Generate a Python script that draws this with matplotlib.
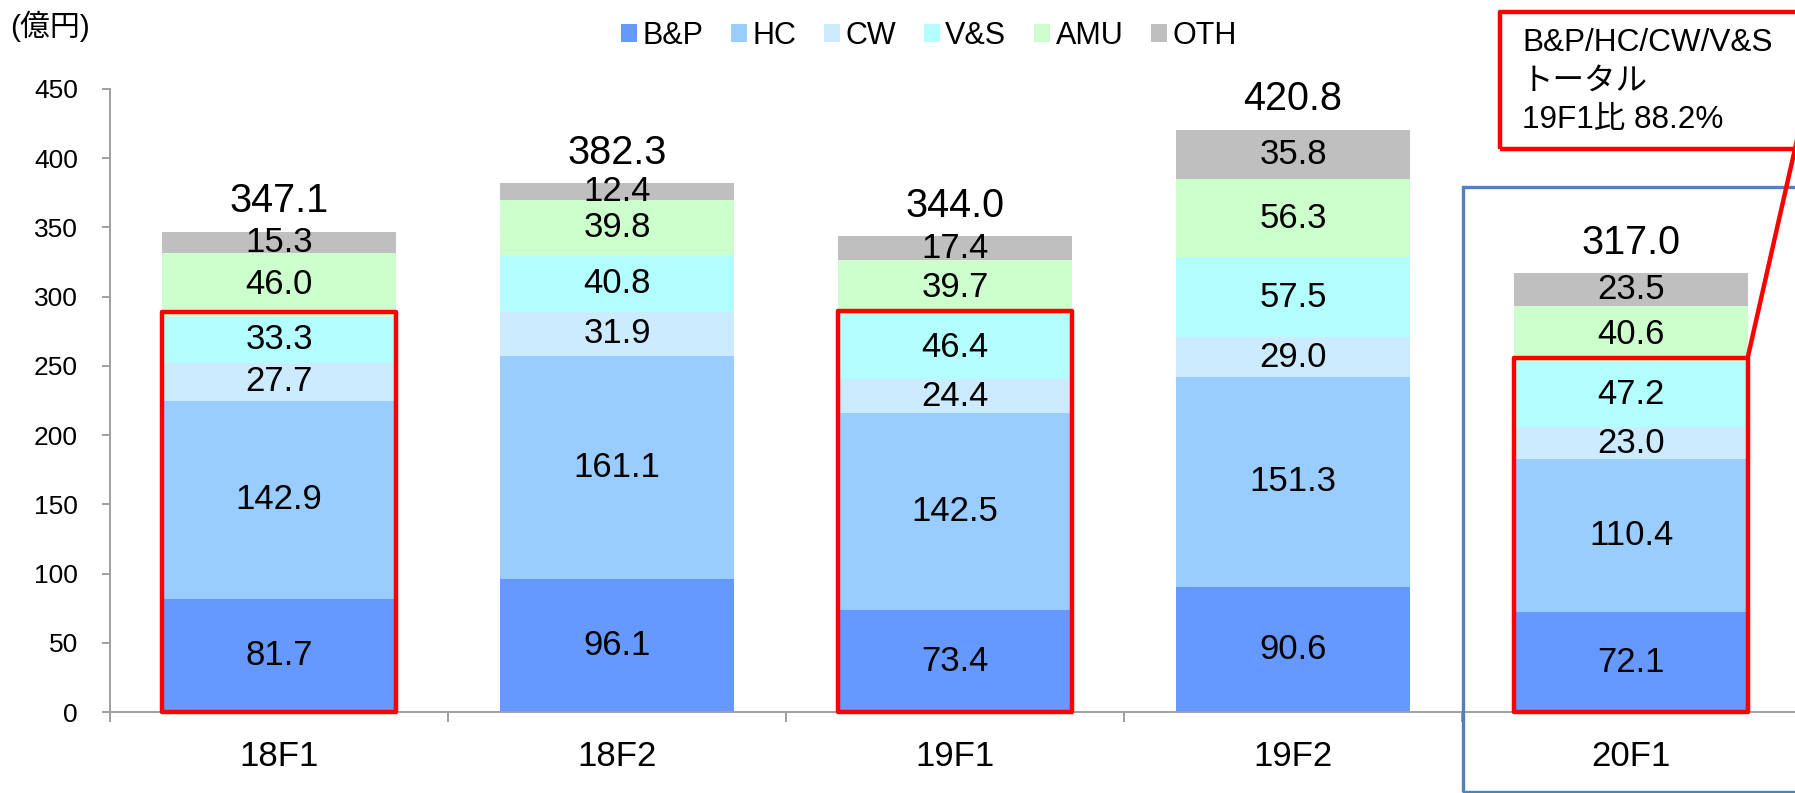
"""Stacked segment sales by half-year, with highlighted B&P/HC/CW/V&S totals."""

import matplotlib
matplotlib.use("Agg")
import matplotlib.pyplot as plt
from matplotlib.patches import Rectangle, ConnectionPatch
import numpy as np

plt.rcParams["font.family"] = ["Liberation Sans", "Noto Sans CJK JP", "DejaVu Sans"]

periods = ["18F1", "18F2", "19F1", "19F2", "20F1"]
segments = ["B&P", "HC", "CW", "V&S", "AMU", "OTH"]
colors = ["#6699FF", "#99CCFF", "#CCEBFF", "#B3FFFF", "#CCFFCC", "#BFBFBF"]

bp = [81.7, 96.1, 73.4, 90.6, 72.1]
hc = [142.9, 161.1, 142.5, 151.3, 110.4]
cw = [27.7, 31.9, 24.4, 29.0, 23.0]
vs = [33.3, 40.8, 46.4, 57.5, 47.2]
amu = [46.0, 39.8, 39.7, 56.3, 40.6]
oth = [15.3, 12.4, 17.4, 35.8, 23.5]
totals = [347.1, 382.3, 344.0, 420.8, 317.0]

highlighted = ["18F1", "19F1", "20F1"]
note_text = "B&P/HC/CW/V&S\nトータル\n19F1比 88.2%"

W, H = 1795, 793
GRAY = "#A0A0A0"
BAR_W = 0.69


def main() -> None:
    fig = plt.figure(figsize=(W / 100, H / 100), dpi=100)
    ax = fig.add_axes([110 / W, 81 / H, 1690 / W, 623 / H])

    x = np.arange(len(periods))
    series = [bp, hc, cw, vs, amu, oth]
    bottom = np.zeros(len(periods))
    for name, vals, col in zip(segments, series, colors):
        vals = np.array(vals)
        ax.bar(x, vals, BAR_W, bottom=bottom, color=col, label=name, zorder=2)
        for xi, b, v in zip(x, bottom, vals):
            ax.text(xi, b + v / 2, f"{v:.1f}", ha="center", va="center",
                    fontsize=25, color="black", zorder=4)
        bottom = bottom + vals

    for xi, top, t in zip(x, bottom, totals):
        ax.annotate(f"{t:.1f}", (xi, top), xytext=(0, 14), textcoords="offset points",
                    ha="center", va="baseline", fontsize=28.5)

    # red frames around the B&P/HC/CW/V&S part
    core = np.array(bp) + np.array(hc) + np.array(cw) + np.array(vs)
    for i, p in enumerate(periods):
        if p in highlighted:
            ax.add_patch(Rectangle((x[i] - BAR_W / 2, 0), BAR_W, core[i] + 3,
                                   fill=False, edgecolor="#FF0000", lw=3.2,
                                   joinstyle="round", zorder=5, clip_on=False))

    # blue frame around 20F1
    ax.add_patch(Rectangle((3.503, -58), 1.2, 437, fill=False,
                           edgecolor="#4F81BD", lw=2.4, zorder=5, clip_on=False))

    ax.set_xlim(-0.5, len(periods) - 0.5)
    ax.set_ylim(0, 450)
    ax.set_yticks(np.arange(0, 451, 50))
    ax.set_xticks(x)
    ax.set_xticklabels(periods)
    ax.set_xticks(np.arange(-0.5, len(periods), 1), minor=True)
    ax.tick_params(axis="x", which="major", length=0, pad=20, labelsize=25)
    ax.tick_params(axis="x", which="minor", length=7, width=1.4, color=GRAY, direction="out")
    ax.tick_params(axis="y", length=6, width=1.4, color=GRAY, pad=17, labelsize=19)
    for side in ("top", "right"):
        ax.spines[side].set_visible(False)
    for side in ("left", "bottom"):
        ax.spines[side].set_color(GRAY)
        ax.spines[side].set_linewidth(1.4)

    ax.legend(ncol=6, loc="center", bbox_to_anchor=(929 / W, 1 - 36 / H),
              bbox_transform=fig.transFigure, frameon=False, fontsize=22,
              handlelength=0.52, handleheight=0.5, handletextpad=0.17,
              columnspacing=0.92, borderpad=0)

    fig.text(10 / W, 1 - 26 / H, "(億円)", ha="left", va="center", fontsize=21.5)

    # note box at top right with connector to the 20F1 frame
    fig.patches.append(Rectangle((1500 / W, 1 - 149 / H), 400 / W, 137 / H,
                                 transform=fig.transFigure, fill=False,
                                 edgecolor="#FF0000", lw=3.2, joinstyle="round"))
    fig.text(1522 / W, 1 - 28 / H, note_text, ha="left", va="top", fontsize=22.7,
             linespacing=1.38)
    con = ConnectionPatch(xyA=(1797 / W, 1 - 140 / H), coordsA=fig.transFigure,
                          xyB=(x[4] + BAR_W / 2, core[4] + 3), coordsB=ax.transData,
                          color="#FF0000", lw=3.2)
    fig.add_artist(con)

    fig.savefig("out.png", dpi=100)


if __name__ == "__main__":
    main()
